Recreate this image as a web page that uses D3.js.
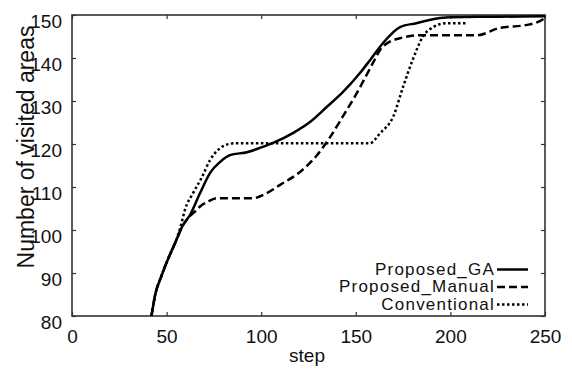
<!DOCTYPE html>
<html>
<head>
<meta charset="utf-8">
<script src="https://d3js.org/d3.v7.min.js"></script>
<style>
  body { margin: 0; background: #fff; }
  text { font-family: "Liberation Sans", Arial, sans-serif; fill: #111; }
</style>
</head>
<body>
<div id="chart"></div>
<script>
// Chart data
var xTicks = [0, 50, 100, 150, 200, 250];
var yTicks = [80, 90, 100, 110, 120, 130, 140, 150];
var seriesNames = ["Proposed_GA", "Proposed_Manual", "Conventional"];

var gaSteps = [42, 44, 47, 51, 55, 58.5, 62.4, 67.7, 73, 78.2, 83.5, 92.5, 100, 106, 117, 125.8, 134.6, 143, 152.2, 157.5, 164.4, 173.4, 182, 194.5, 200, 225, 250];
var gaValues = [80, 85, 89, 93.5, 97.5, 101, 103.5, 108.6, 113.3, 115.8, 117.4, 118.1, 119.2, 120.2, 122.6, 125.1, 128.6, 132, 136.5, 139.5, 143.5, 147.2, 148.1, 149.3, 149.5, 149.6, 149.7];

var manualSteps = [42, 44, 47, 51, 55, 58.5, 62.4, 65, 68, 71.4, 76.6, 95.7, 103, 110, 120.5, 129.5, 136.4, 143, 150.6, 159, 163, 168, 173.4, 184, 214, 226, 240.5, 249, 250];
var manualValues = [80, 85, 89, 93.5, 97.5, 101, 103.3, 104.3, 105.6, 106.5, 107.4, 107.4, 108.6, 110.5, 113.5, 117.4, 121.6, 126.3, 131.9, 138.8, 142, 143.8, 144.6, 145.3, 145.3, 147, 147.7, 149, 149.3];

var convSteps = [42, 44, 47, 51, 55, 57.5, 59.7, 64, 68.7, 73, 78.2, 83, 87, 157.5, 162.8, 169.7, 175, 180, 185.5, 191, 198, 208.8];
var convValues = [80, 85, 89, 93.5, 97.5, 101, 104.7, 108.6, 112.3, 116.3, 119, 120, 120.2, 120.2, 122.5, 126.3, 133.3, 139.5, 145, 147.2, 148.1, 148.1];

// Chart Params
var svgWidth = 572;
var svgHeight = 369;
var margin = { top: 15, right: 27, bottom: 53, left: 72 };
var width = svgWidth - margin.left - margin.right;
var height = svgHeight - margin.top - margin.bottom;

var svg = d3.select("#chart")
  .append("svg")
  .attr("width", svgWidth)
  .attr("height", svgHeight);

var chartGroup = svg.append("g")
  .attr("transform", `translate(${margin.left}, ${margin.top})`);

var xScale = d3.scaleLinear().domain([0, 250]).range([0, width]);
var yScale = d3.scaleLinear().domain([80, 150]).range([height, 0]);

// build the series list from the arrays
function toPoints(steps, values) {
  return steps.map((s, i) => ({ step: s, value: values[i] }));
}
var series = [
  { name: seriesNames[0], points: toPoints(gaSteps, gaValues), dash: null },
  { name: seriesNames[1], points: toPoints(manualSteps, manualValues), dash: "8,4" },
  { name: seriesNames[2], points: toPoints(convSteps, convValues), dash: "2.5,2.5" }
];

// axes with inward ticks
var bottomAxis = d3.axisBottom(xScale).tickValues(xTicks).tickSize(-4).tickSizeOuter(0);
var topAxis = d3.axisTop(xScale).tickValues(xTicks).tickSize(-4).tickSizeOuter(0).tickFormat("");
var leftAxis = d3.axisLeft(yScale).tickValues(yTicks).tickSize(-4).tickSizeOuter(0);
var rightAxis = d3.axisRight(yScale).tickValues(yTicks).tickSize(-4).tickSizeOuter(0).tickFormat("");

var xAxis = chartGroup.append("g")
  .attr("transform", `translate(0, ${height})`)
  .call(bottomAxis);
xAxis.selectAll("text")
  .attr("y", 27)
  .attr("dy", 0)
  .style("font-size", "19px");

chartGroup.append("g").call(topAxis);

var yAxis = chartGroup.append("g").call(leftAxis);
yAxis.selectAll("text")
  .attr("x", -10)
  .attr("dy", 12)
  .style("font-size", "19px");

chartGroup.append("g")
  .attr("transform", `translate(${width}, 0)`)
  .call(rightAxis);

chartGroup.selectAll(".domain").remove();
chartGroup.selectAll(".tick line").attr("stroke", "#333").attr("stroke-width", 1.2);
chartGroup.selectAll(".tick text").attr("fill", "#111");

// frame
chartGroup.append("rect")
  .attr("width", width)
  .attr("height", height)
  .attr("fill", "none")
  .attr("stroke", "#333")
  .attr("stroke-width", 1.6);

// lines
var line = d3.line()
  .x(d => xScale(d.step))
  .y(d => yScale(d.value))
  .curve(d3.curveMonotoneX);

chartGroup.selectAll(".series")
  .data(series)
  .enter()
  .append("path")
  .attr("class", "series")
  .attr("d", d => line(d.points))
  .attr("fill", "none")
  .attr("stroke", "#000")
  .attr("stroke-width", 2.5)
  .attr("stroke-dasharray", d => d.dash);

// legend
var legend = chartGroup.selectAll(".legend")
  .data(series)
  .enter()
  .append("g")
  .attr("class", "legend")
  .attr("transform", (d, i) => `translate(0, ${259.5 + i * 17.5})`);

legend.append("text")
  .attr("x", 423)
  .attr("text-anchor", "end")
  .style("font-size", "17px")
  .style("letter-spacing", "1.2px")
  .text(d => d.name);

legend.append("line")
  .attr("x1", 425)
  .attr("x2", 456)
  .attr("y1", -5)
  .attr("y2", -5)
  .attr("stroke", "#000")
  .attr("stroke-width", 2.5)
  .attr("stroke-dasharray", d => d.dash);

// axis labels
svg.append("text")
  .attr("x", 307)
  .attr("y", 362)
  .attr("text-anchor", "middle")
  .style("font-size", "19px")
  .text("step");

svg.append("text")
  .attr("transform", "translate(34, 147) rotate(-90)")
  .attr("text-anchor", "middle")
  .style("font-size", "23px")
  .text("Number of visited areas");
</script>
</body>
</html>
